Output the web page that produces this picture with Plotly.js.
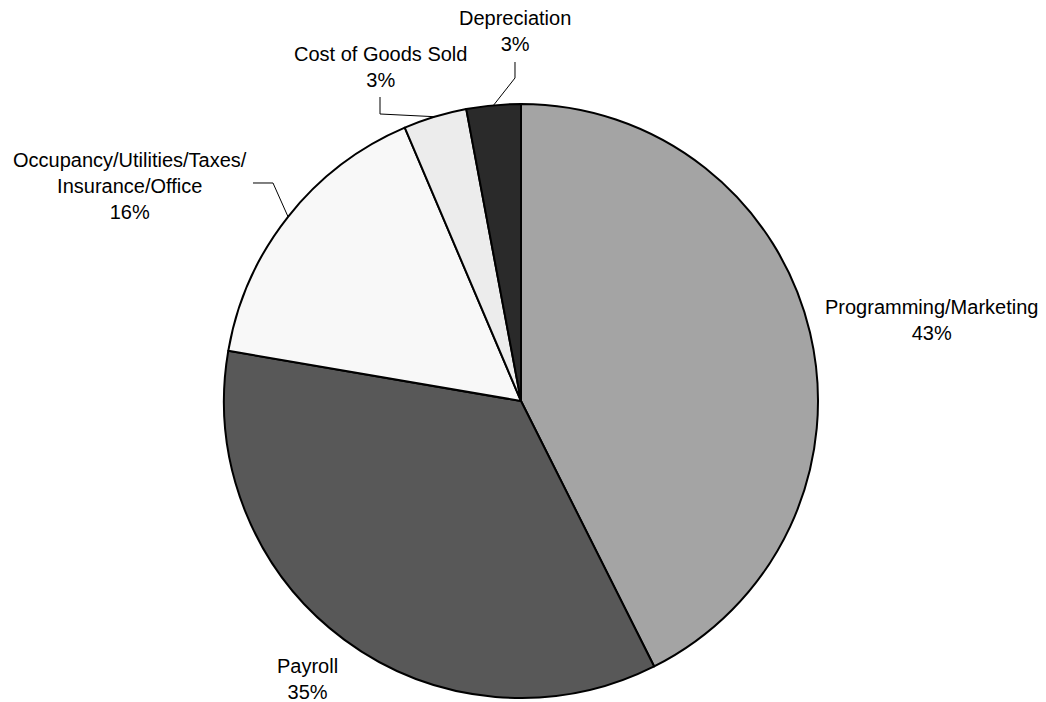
<!DOCTYPE html>
<html>
<head>
<meta charset="utf-8">
<script src="https://cdn.plot.ly/plotly-3.0.1.min.js"></script>
<style>
  html, body { margin: 0; padding: 0; background: #ffffff; }
  #chart { width: 1046px; height: 702px; }
</style>
</head>
<body>
<div id="chart"></div>
<script>
// ---- data ----
const categories = [
  "Programming/Marketing",
  "Payroll",
  "Occupancy/Utilities/Taxes/<br>Insurance/Office",
  "Cost of Goods Sold",
  "Depreciation"
];
const values = [42.6, 35.1, 15.9, 3.45, 2.95];
const sliceColors = ["#a4a4a4", "#585858", "#f8f8f8", "#ececec", "#2a2a2a"];

// ---- layout constants ----
const W = 1046, H = 702;
const CX = 521, CY = 401, R = 297;

// label block centres (px) and leader elbows (px), in category order
const labelPos = [[931, 320], [307, 679], [130, 186], [380, 67], [515, 31]];
const leaders = [null, null, [[253, 183], [273, 183]], [[380, 97], [380, 114]], [[515, 62], [515, 78]]];

const total = values.reduce((a, b) => a + b, 0);
const px2x = p => p / W;
const py2y = p => 1 - p / H;

const annotations = [];
const shapes = [];
let cum = 0;
values.forEach((v, i) => {
  const mid = (cum + v / 2) / total * 2 * Math.PI;
  cum += v;
  const pct = Math.round(v / total * 100) + "%";
  annotations.push({
    x: px2x(labelPos[i][0]), y: py2y(labelPos[i][1]),
    xref: "paper", yref: "paper",
    xanchor: "center", yanchor: "middle", align: "center",
    showarrow: false,
    text: categories[i] + "<br>" + pct,
    font: {family: "Liberation Sans, Arial, sans-serif", size: 20, color: "#000000"}
  });
  if (leaders[i]) {
    const ex = CX + R * Math.sin(mid);
    const ey = CY - R * Math.cos(mid);
    const pts = leaders[i].concat([[ex, ey]]);
    const path = pts.map((p, k) => (k ? "L" : "M") + px2x(p[0]).toFixed(5) + "," + py2y(p[1]).toFixed(5)).join(" ");
    shapes.push({type: "path", xref: "paper", yref: "paper", path: path,
      line: {color: "#000000", width: 1}});
  }
});

const trace = {
  type: "pie",
  labels: categories,
  values: values,
  sort: false,
  direction: "clockwise",
  rotation: 0,
  textinfo: "none",
  hoverinfo: "label+percent",
  marker: {colors: sliceColors, line: {color: "#000000", width: 2}},
  domain: {x: [(CX - R) / W, (CX + R) / W], y: [1 - (CY + R) / H, 1 - (CY - R) / H]}
};

const layout = {
  width: W, height: H,
  margin: {l: 0, r: 0, t: 0, b: 0},
  paper_bgcolor: "#ffffff",
  plot_bgcolor: "#ffffff",
  showlegend: false,
  annotations: annotations,
  shapes: shapes
};

Plotly.newPlot("chart", [trace], layout, {displayModeBar: false, staticPlot: true});
</script>
</body>
</html>
